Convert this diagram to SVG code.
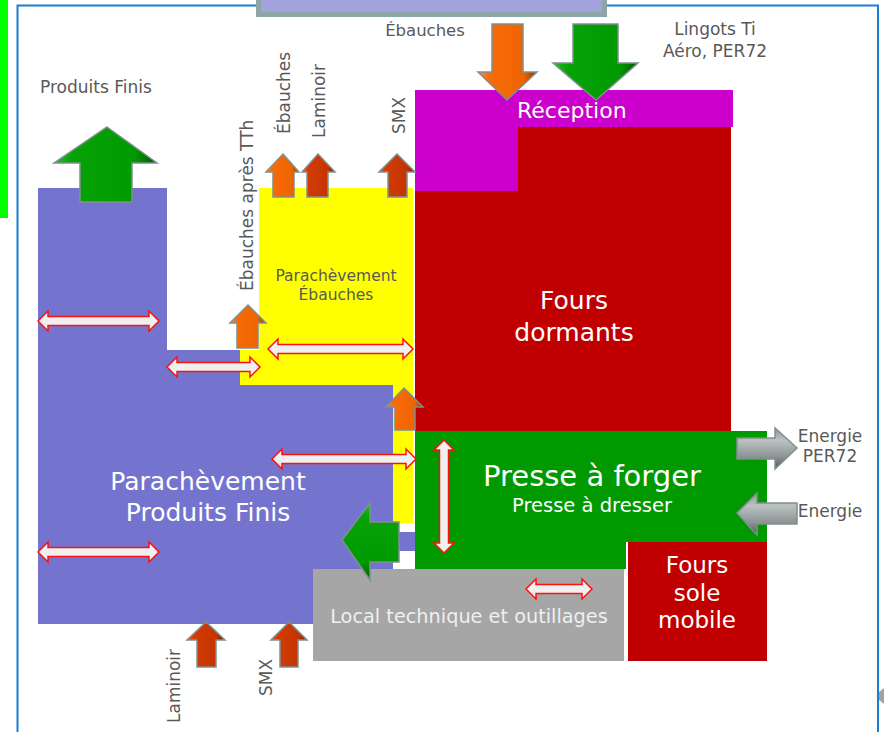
<svg xmlns="http://www.w3.org/2000/svg" width="884" height="732" viewBox="0 0 884 732">
  <defs>
    <!-- bevel shading for the flow arrows -->
    <linearGradient id="gOrangeV" x1="0" y1="0" x2="1" y2="0">
      <stop offset="0" stop-color="#FF9040"/>
      <stop offset="0.18" stop-color="#F86C08"/>
      <stop offset="0.78" stop-color="#EE6400"/>
      <stop offset="1" stop-color="#8A3800"/>
    </linearGradient>
    <linearGradient id="gRustV" x1="0" y1="0" x2="1" y2="0">
      <stop offset="0" stop-color="#EC5A20"/>
      <stop offset="0.18" stop-color="#D23C06"/>
      <stop offset="0.78" stop-color="#C43400"/>
      <stop offset="1" stop-color="#6A1C00"/>
    </linearGradient>
    <linearGradient id="gGreenV" x1="0" y1="0" x2="1" y2="0">
      <stop offset="0" stop-color="#28BC28"/>
      <stop offset="0.18" stop-color="#06A206"/>
      <stop offset="0.78" stop-color="#009A00"/>
      <stop offset="1" stop-color="#035A03"/>
    </linearGradient>
    <linearGradient id="gGreenH" x1="0" y1="0" x2="0" y2="1">
      <stop offset="0" stop-color="#28BC28"/>
      <stop offset="0.18" stop-color="#06A206"/>
      <stop offset="0.78" stop-color="#009A00"/>
      <stop offset="1" stop-color="#035A03"/>
    </linearGradient>
    <linearGradient id="gGrayH" x1="0" y1="0" x2="0" y2="1">
      <stop offset="0" stop-color="#8C9494"/>
      <stop offset="0.3" stop-color="#BCC2C2"/>
      <stop offset="0.7" stop-color="#8C9494"/>
      <stop offset="1" stop-color="#4E5656"/>
    </linearGradient>
    <style>
      .lbl { font-family: "DejaVu Sans", "Liberation Sans", sans-serif; fill: #595959; }
      .wht { font-family: "DejaVu Sans", "Liberation Sans", sans-serif; fill: #FFFFFF; }
      .frame { stroke: #1A7DD2; stroke-width: 2; fill: none; }
      .arr { stroke: #7F9090; stroke-width: 1.5; stroke-linejoin: miter; }
      .dbl { fill: #F0F0F0; stroke: #FF1010; stroke-width: 1.5; stroke-linejoin: miter; }
    </style>
  </defs>

  <rect width="884" height="732" fill="#FFFFFF"/>

  <!-- page frame -->
  <rect x="0" y="0" width="8" height="218" fill="#00FF00"/>
  <path class="frame" d="M17.5 732 V5.5 H258 M607 5.5 H878 V732"/>
  <path d="M879 692 L884 688 L884 704 L879 700 Z" fill="#A0A4A4"/>

  <!-- upstream building (cut at top) -->
  <rect x="258.5" y="-5" width="346" height="19.5" fill="#A3A3DB" stroke="#8CA5A5" stroke-width="5"/>

  <!-- zones -->
  <g id="parachevement-produits-finis">
    <path d="M38 188 H167 V350 H240 V385 H393 V624 H38 Z" fill="#7474CF"/>
    <rect x="393" y="532" width="22" height="19" fill="#7474CF"/>
    <text class="wht" font-size="25" text-anchor="middle" x="208" y="490">Parachèvement</text>
    <text class="wht" font-size="25" text-anchor="middle" x="208" y="521">Produits Finis</text>
  </g>

  <g id="parachevement-ebauches">
    <path d="M259 188 H413 V523 H393 V385 H240 V350 H259 Z" fill="#FFFF00"/>
    <text class="lbl" font-size="15.5" text-anchor="middle" x="336" y="281">Parachèvement</text>
    <text class="lbl" font-size="15.5" text-anchor="middle" x="336" y="300">Ébauches</text>
  </g>

  <g id="fours-dormants">
    <rect x="415" y="127" width="316" height="304" fill="#C00000"/>
    <text class="wht" font-size="25" text-anchor="middle" x="574" y="309">Fours</text>
    <text class="wht" font-size="25" text-anchor="middle" x="574" y="341">dormants</text>
  </g>

  <g id="reception">
    <path d="M415 90 H733 V127 H518 V191 H415 Z" fill="#CC00CC"/>
    <text class="wht" font-size="22" x="517" y="118">Réception</text>
  </g>

  <g id="presse">
    <path d="M415 431 H767 V542 H626 V569 H415 Z" fill="#009900"/>
    <text class="wht" font-size="29" text-anchor="middle" x="592" y="486">Presse à forger</text>
    <text class="wht" font-size="19.5" text-anchor="middle" x="592" y="512">Presse à dresser</text>
  </g>

  <g id="fours-sole-mobile">
    <rect x="628" y="542" width="139" height="119" fill="#C00000"/>
    <text class="wht" font-size="23" text-anchor="middle" x="697" y="573">Fours</text>
    <text class="wht" font-size="23" text-anchor="middle" x="697" y="601">sole</text>
    <text class="wht" font-size="23" text-anchor="middle" x="697" y="628">mobile</text>
  </g>

  <g id="local-technique">
    <rect x="313" y="569" width="311" height="92" fill="#A6A6A6"/>
    <text font-family="DejaVu Sans, Liberation Sans, sans-serif" fill="#EFEFEF" font-size="19.3" text-anchor="middle" x="469" y="623">Local technique et outillages</text>
  </g>

  <!-- outside labels -->
  <g id="labels">
    <text class="lbl" font-size="17" x="40" y="93">Produits Finis</text>
    <text class="lbl" font-size="16.5" text-anchor="middle" x="425" y="36">Ébauches</text>
    <text class="lbl" font-size="17" text-anchor="middle" x="715" y="35">Lingots Ti</text>
    <text class="lbl" font-size="17" text-anchor="middle" x="715" y="57">Aéro, PER72</text>
    <text class="lbl" font-size="17" text-anchor="middle" x="830" y="442">Energie</text>
    <text class="lbl" font-size="17" text-anchor="middle" x="830" y="462">PER72</text>
    <text class="lbl" font-size="17" text-anchor="middle" x="830" y="517">Energie</text>
    <text class="lbl" font-size="17" transform="translate(253 291) rotate(-90)">Ébauches après TTh</text>
    <text class="lbl" font-size="17" transform="translate(290 134) rotate(-90)">Ébauches</text>
    <text class="lbl" font-size="17" transform="translate(325 138) rotate(-90)">Laminoir</text>
    <text class="lbl" font-size="17" transform="translate(405 134) rotate(-90)">SMX</text>
    <text class="lbl" font-size="17" transform="translate(180 723) rotate(-90)">Laminoir</text>
    <text class="lbl" font-size="17" transform="translate(272 696) rotate(-90)">SMX</text>
  </g>

  <g id="connectors">
    <!-- material flows -->
    <polygon class="arr" fill="url(#gGreenV)" points="107,127 157,163 132,163 132,202 80,202 80,163 54,163"/>
    <polygon class="arr" fill="url(#gOrangeV)" points="492,24 523,24 523,72 537,72 507,100 478,72 492,72"/>
    <polygon class="arr" fill="url(#gGreenV)" points="573,24 618,24 618,63 638,63 596,100 553,63 573,63"/>

    <polygon class="arr" fill="url(#gOrangeV)" points="283,154 299,172 294,172 294,197 273,197 273,172 266,172"/>
    <polygon class="arr" fill="url(#gRustV)" points="318,154 335,172 328,172 328,197 307,197 307,172 302,172"/>
    <polygon class="arr" fill="url(#gRustV)" points="397,154 415,172 407,172 407,197 388,197 388,172 379,172"/>
    <polygon class="arr" fill="url(#gOrangeV)" points="248,305 266,323 258,323 258,348 237,348 237,323 230,323"/>
    <polygon class="arr" fill="url(#gOrangeV)" points="404,388 423,407 415,407 415,430 395,430 395,407 386,407"/>
    <polygon class="arr" fill="url(#gRustV)" points="206,622 225,640 216,640 216,667 197,667 197,640 187,640"/>
    <polygon class="arr" fill="url(#gRustV)" points="289,622 307,640 298,640 298,667 280,667 280,640 271,640"/>

    <polygon class="arr" fill="url(#gGreenH)" points="342,540 370,503 370,522 399,522 399,562 370,562 370,580"/>

    <!-- energy -->
    <polygon class="arr" fill="url(#gGrayH)" points="737,438 775,438 775,428 797,448 775,469 775,459 737,459"/>
    <polygon class="arr" fill="url(#gGrayH)" points="737,513 757,493 757,503 797,503 797,524 757,524 757,535"/>

    <!-- internal transfers -->
    <polygon class="dbl" points="38,321 48,311 48,316.5 149,316.5 149,311 159,321 149,331 149,325.5 48,325.5 48,331"/>
    <polygon class="dbl" points="167,367 177,357 177,362.5 250,362.5 250,357 260,367 250,377 250,371.5 177,371.5 177,377"/>
    <polygon class="dbl" points="268,349 278,339 278,344.5 403,344.5 403,339 413,349 403,359 403,353.5 278,353.5 278,359"/>
    <polygon class="dbl" points="272,459 282,449 282,454.5 406,454.5 406,449 416,459 406,469 406,463.5 282,463.5 282,469"/>
    <polygon class="dbl" points="38,552 48,542 48,547.5 149,547.5 149,542 159,552 149,562 149,556.5 48,556.5 48,562"/>
    <polygon class="dbl" points="526,589 536,579 536,584.5 582,584.5 582,579 592,589 582,599 582,593.5 536,593.5 536,599"/>
    <polygon class="dbl" points="444,440 454,450 448.5,450 448.5,543 454,543 444,553 434,543 439.5,543 439.5,450 434,450"/>
  </g>
</svg>
